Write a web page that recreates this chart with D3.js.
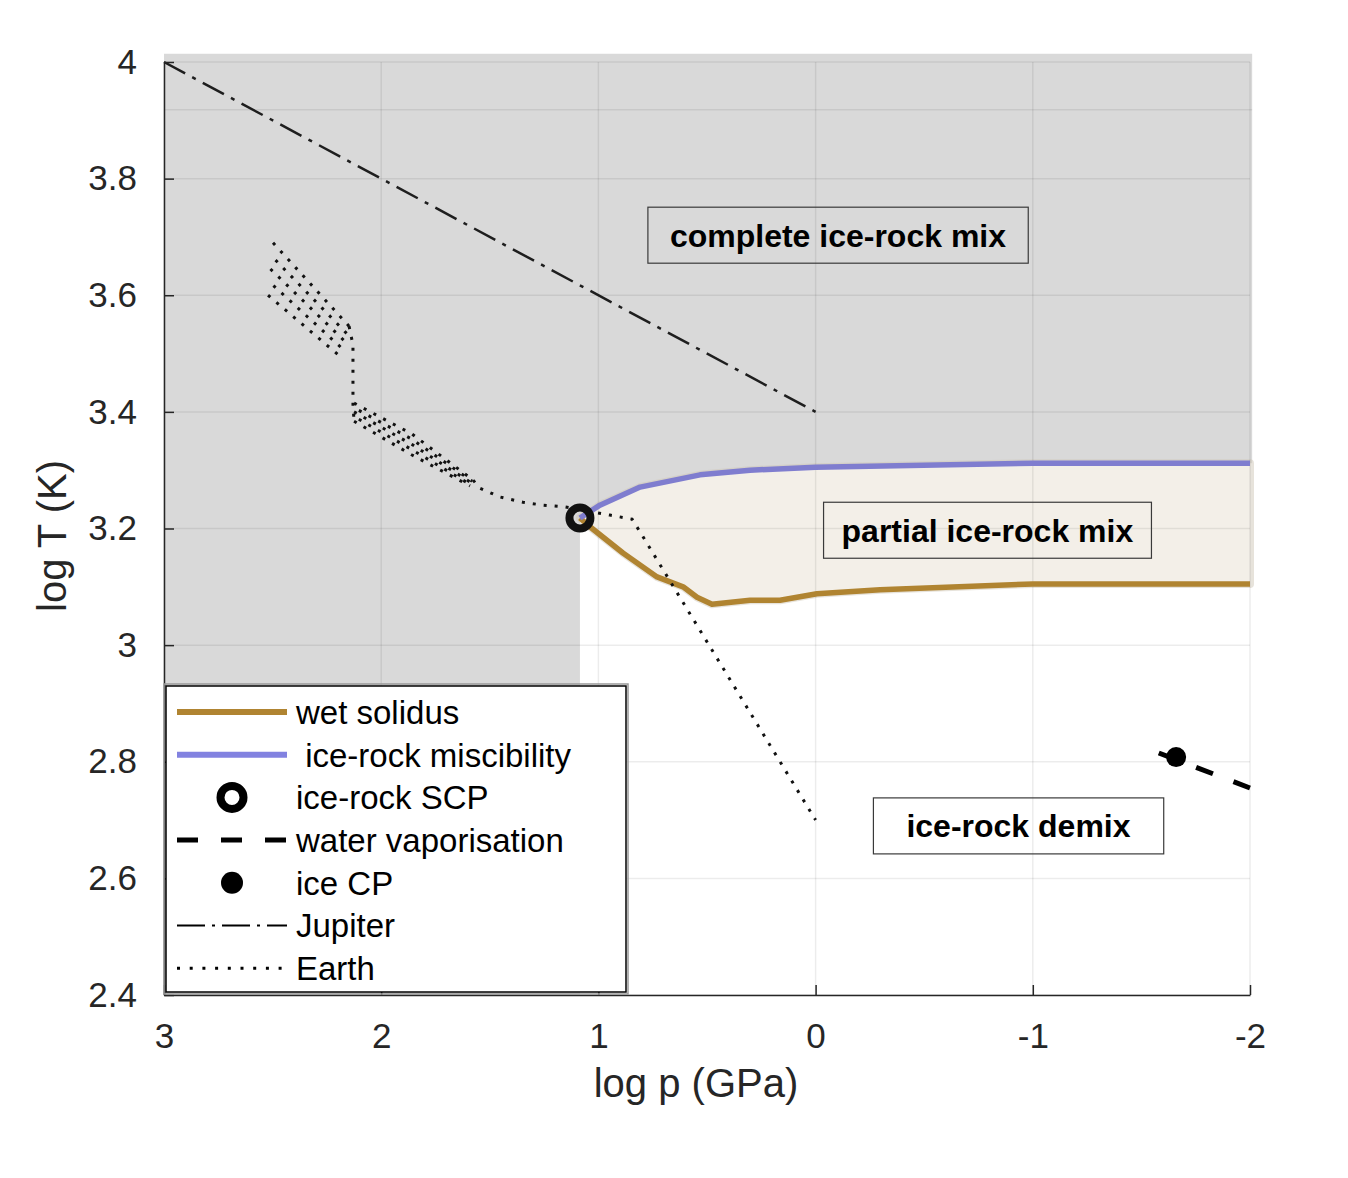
<!DOCTYPE html>
<html>
<head>
<meta charset="utf-8">
<style>
  body { margin: 0; background: #fff; }
  text { font-family: "Liberation Sans", Arial, Helvetica, sans-serif; fill: #262626; }
  .axis path, .axis line { stroke: #262626; stroke-width: 1.5; }
  .axis text { font-size: 35px; fill: #262626; font-family: "Liberation Sans", Arial, sans-serif; }
  .grid line { stroke: #000; stroke-opacity: 0.075; stroke-width: 1.5; }
</style>
<script src="https://d3js.org/d3.v7.min.js"></script>
</head>
<body>
<svg id="chart" width="1348" height="1178"></svg>
<script>
// ---- data (log p in GPa, log T in K) ----
const xTicks = [3, 2, 1, 0, -1, -2];
const yTicks = [2.4, 2.6, 2.8, 3, 3.2, 3.4, 3.6, 3.8, 4];

const scpP = 1.085, scpT = 3.218;           // ice-rock SCP
const iceCpP = -1.66, iceCpT = 2.808;       // ice CP

const miscP = [1.085, 0.993, 0.808, 0.532, 0.302, 0.0, -1.0, -2.0];
const miscT = [3.218, 3.240, 3.271, 3.292, 3.300, 3.305, 3.312, 3.312];

const solP = [1.085, 1.039, 0.887, 0.730, 0.610, 0.546, 0.477, 0.302, 0.164, -0.006, -0.297, -1.0, -2.0];
const solT = [3.218, 3.203, 3.158, 3.117, 3.100, 3.082, 3.070, 3.077, 3.077, 3.088, 3.095, 3.105, 3.105];

const vapP = [-1.58, -2.0];
const vapT = [2.815, 2.755];

const jupP = [3.0, 0.0];
const jupT = [4.0, 3.4];

// Earth: a bundle of deep profiles, a steep joint, a second bundle, then one shallow branch
const earthTopP = [
  [2.498, 2.148], [2.504, 2.155], [2.510, 2.162], [2.515, 2.169], [2.521, 2.176]
];
const earthTopT = [
  [3.690, 3.547], [3.667, 3.533], [3.645, 3.519], [3.623, 3.505], [3.600, 3.491]
];
const earthJointP = [2.148, 2.130, 2.130, 2.125];
const earthJointT = [3.547, 3.515, 3.412, 3.384];
const earthMidP = [
  [2.125, 1.858, 1.577], [2.125, 1.858, 1.581], [2.125, 1.858, 1.584],
  [2.125, 1.858, 1.588], [2.125, 1.858, 1.591]
];
const earthMidT = [
  [3.415, 3.362, 3.283], [3.407, 3.353, 3.281], [3.400, 3.344, 3.278],
  [3.392, 3.335, 3.275], [3.384, 3.326, 3.273]
];
const earthTailP = [1.577, 1.545, 1.453, 1.347, 1.255, 1.154, 0.947, 0.845, 0.808, 0.0];
const earthTailT = [3.283, 3.269, 3.254, 3.245, 3.240, 3.237, 3.223, 3.216, 3.194, 2.70];

const regionLabels = ["complete ice-rock mix", "partial ice-rock mix", "ice-rock demix"];
const regionP = [-0.103, -0.791, -0.934];
const regionT = [3.703, 3.197, 2.690];

const legendLabels = ["wet solidus", " ice-rock miscibility", "ice-rock SCP",
  "water vaporisation", "ice CP", "Jupiter", "Earth"];

// ---- styles ----
const grayFill = "#d9d9d9", beigeFill = "#f3efe8";
const solColor = "#b08431", miscColor = "#7f7dcf";
const boxPad = [22, 18, 33];

const svg = d3.select("#chart");
const x = d3.scaleLinear().domain([3, -2]).range([164, 1250]);
const y = d3.scaleLinear().domain([2.4, 4]).range([995, 62]);

const zip = (ps, ts) => ps.map((p, i) => [p, ts[i]]);
const line = d3.line().x(d => x(d[0])).y(d => y(d[1]));

// complete ice-rock mix region (gray)
const misc = zip(miscP, miscT);
const grayPoly = [[3, 4.014], [-2.01, 4.014], [-2.01, 3.312]]
  .concat(misc.slice().reverse())
  .concat([[scpP, 2.4], [3, 2.4]]);
svg.append("path").attr("d", line(grayPoly) + "Z").attr("fill", grayFill);

// partial ice-rock mix region (beige)
const sol = zip(solP, solT);
const partPoly = misc.concat(sol.slice().reverse());
svg.append("path").attr("d", line(partPoly) + "Z")
  .attr("fill", beigeFill)
  .attr("stroke", "#cfc8b8").attr("stroke-opacity", 0.5).attr("stroke-width", 8)
  .attr("stroke-linejoin", "round");
svg.append("path").attr("d", line(partPoly) + "Z").attr("fill", beigeFill);

// grid
const grid = svg.append("g").attr("class", "grid");
grid.selectAll("line.gx").data(xTicks).enter().append("line")
  .attr("x1", d => x(d)).attr("x2", d => x(d)).attr("y1", y(4)).attr("y2", y(2.4));
grid.selectAll("line.gy").data(yTicks).enter().append("line")
  .attr("x1", x(3)).attr("x2", x(-2)).attr("y1", d => y(d)).attr("y2", d => y(d));
grid.append("line").attr("x1", x(3)).attr("x2", x(-2.01)).attr("y1", y(3.918)).attr("y2", y(3.918));

// Jupiter
svg.append("path").attr("d", line(zip(jupP, jupT)))
  .attr("fill", "none").attr("stroke", "#1e1e1e").attr("stroke-width", 2.5)
  .attr("stroke-dasharray", "24 8 4 8");

// wet solidus and miscibility
svg.append("path").attr("d", line(sol)).attr("fill", "none")
  .attr("stroke", solColor).attr("stroke-width", 5.5).attr("stroke-linejoin", "round");
svg.append("path").attr("d", line(misc)).attr("fill", "none")
  .attr("stroke", miscColor).attr("stroke-width", 5.5).attr("stroke-linejoin", "round");

// Earth
const earth = svg.append("g").attr("fill", "none").attr("stroke", "#111")
  .attr("stroke-width", 3).attr("stroke-dasharray", "3 8");
earthTopP.forEach((ps, k) => earth.append("path").attr("d", line(zip(ps, earthTopT[k])))
  .attr("stroke-dashoffset", (k % 2) * 5.5));
earth.append("path").attr("d", line(zip(earthJointP, earthJointT)));
earthMidP.forEach((ps, k) => earth.append("path").attr("d", line(zip(ps, earthMidT[k])))
  .attr("stroke-dashoffset", (k % 2) * 5.5));
earth.append("path").attr("d", line(zip(earthTailP, earthTailT)));

// water vaporisation
svg.append("path").attr("d", line(zip(vapP, vapT))).attr("fill", "none")
  .attr("stroke", "#000").attr("stroke-width", 5).attr("stroke-dasharray", "18 22");

// ice CP and SCP
svg.append("circle").attr("cx", x(iceCpP)).attr("cy", y(iceCpT)).attr("r", 10).attr("fill", "#000");
svg.append("circle").attr("cx", x(scpP)).attr("cy", y(scpT)).attr("r", 10.5)
  .attr("fill", "none").attr("stroke", "#111").attr("stroke-width", 8);

// region labels
regionLabels.forEach((lab, i) => {
  const g = svg.append("g");
  const t = g.append("text").text(lab)
    .attr("x", x(regionP[i])).attr("y", y(regionT[i]))
    .attr("dy", "0.36em").attr("text-anchor", "middle")
    .style("font-size", "32px").style("font-weight", "bold").style("fill", "#000");
  const bb = t.node().getBBox();
  g.insert("rect", "text")
    .attr("x", bb.x - boxPad[i]).attr("y", y(regionT[i]) - 28)
    .attr("width", bb.width + 2 * boxPad[i]).attr("height", 56)
    .attr("fill", "none").attr("stroke", "#3a3a3a").attr("stroke-width", 1.2);
});

// axes
const xAxis = d3.axisBottom(x).tickValues(xTicks).tickSizeInner(-10).tickSizeOuter(0)
  .tickPadding(28).tickFormat(d => String(d));
const yAxis = d3.axisLeft(y).tickValues(yTicks).tickSizeInner(-10).tickSizeOuter(0)
  .tickPadding(27).tickFormat(d => String(d));
svg.append("g").attr("class", "axis").attr("transform", "translate(0," + y(2.4) + ")").call(xAxis);
svg.append("g").attr("class", "axis").attr("transform", "translate(" + x(3) + ",0)").call(yAxis);
svg.selectAll(".axis .domain").attr("stroke", "#262626");

svg.append("text").text("log p (GPa)")
  .attr("x", 696).attr("y", 1097).attr("text-anchor", "middle").style("font-size", "40px");
svg.append("text").text("log T (K)")
  .attr("transform", "translate(66,536) rotate(-90)")
  .attr("text-anchor", "middle").style("font-size", "40px");

// legend
const leg = svg.append("g");
leg.append("rect").attr("x", 164).attr("y", 684).attr("width", 464).attr("height", 310)
  .attr("fill", "none").attr("stroke", "#999").attr("stroke-width", 1.5);
leg.append("rect").attr("x", 166).attr("y", 686).attr("width", 460).attr("height", 306)
  .attr("fill", "#fff").attr("stroke", "#000").attr("stroke-width", 1.5);
const rowY = i => 712 + i * 42.7;
const lx1 = 177, lx2 = 287, lmid = 232;
leg.append("line").attr("x1", lx1).attr("x2", lx2).attr("y1", rowY(0)).attr("y2", rowY(0))
  .attr("stroke", solColor).attr("stroke-width", 6);
leg.append("line").attr("x1", lx1).attr("x2", lx2).attr("y1", rowY(1)).attr("y2", rowY(1))
  .attr("stroke", "#8282e0").attr("stroke-width", 6);
leg.append("circle").attr("cx", lmid).attr("cy", rowY(2)).attr("r", 11.5)
  .attr("fill", "none").attr("stroke", "#000").attr("stroke-width", 8);
leg.append("line").attr("x1", lx1).attr("x2", lx2).attr("y1", rowY(3)).attr("y2", rowY(3))
  .attr("stroke", "#000").attr("stroke-width", 5).attr("stroke-dasharray", "21 23");
leg.append("circle").attr("cx", lmid).attr("cy", rowY(4)).attr("r", 11).attr("fill", "#000");
leg.append("line").attr("x1", lx1).attr("x2", lx2).attr("y1", rowY(5)).attr("y2", rowY(5))
  .attr("stroke", "#000").attr("stroke-width", 2.2).attr("stroke-dasharray", "28 7 3 7");
leg.append("line").attr("x1", lx1).attr("x2", lx2 - 5).attr("y1", rowY(6)).attr("y2", rowY(6))
  .attr("stroke", "#000").attr("stroke-width", 3).attr("stroke-dasharray", "3 9.7");
leg.selectAll("text.lab").data(legendLabels).enter().append("text")
  .attr("x", 296).attr("y", (d, i) => rowY(i)).attr("dy", "0.36em")
  .attr("xml:space", "preserve").style("white-space", "pre")
  .style("font-size", "33px").style("fill", "#000")
  .text(d => d);
</script>
</body>
</html>
